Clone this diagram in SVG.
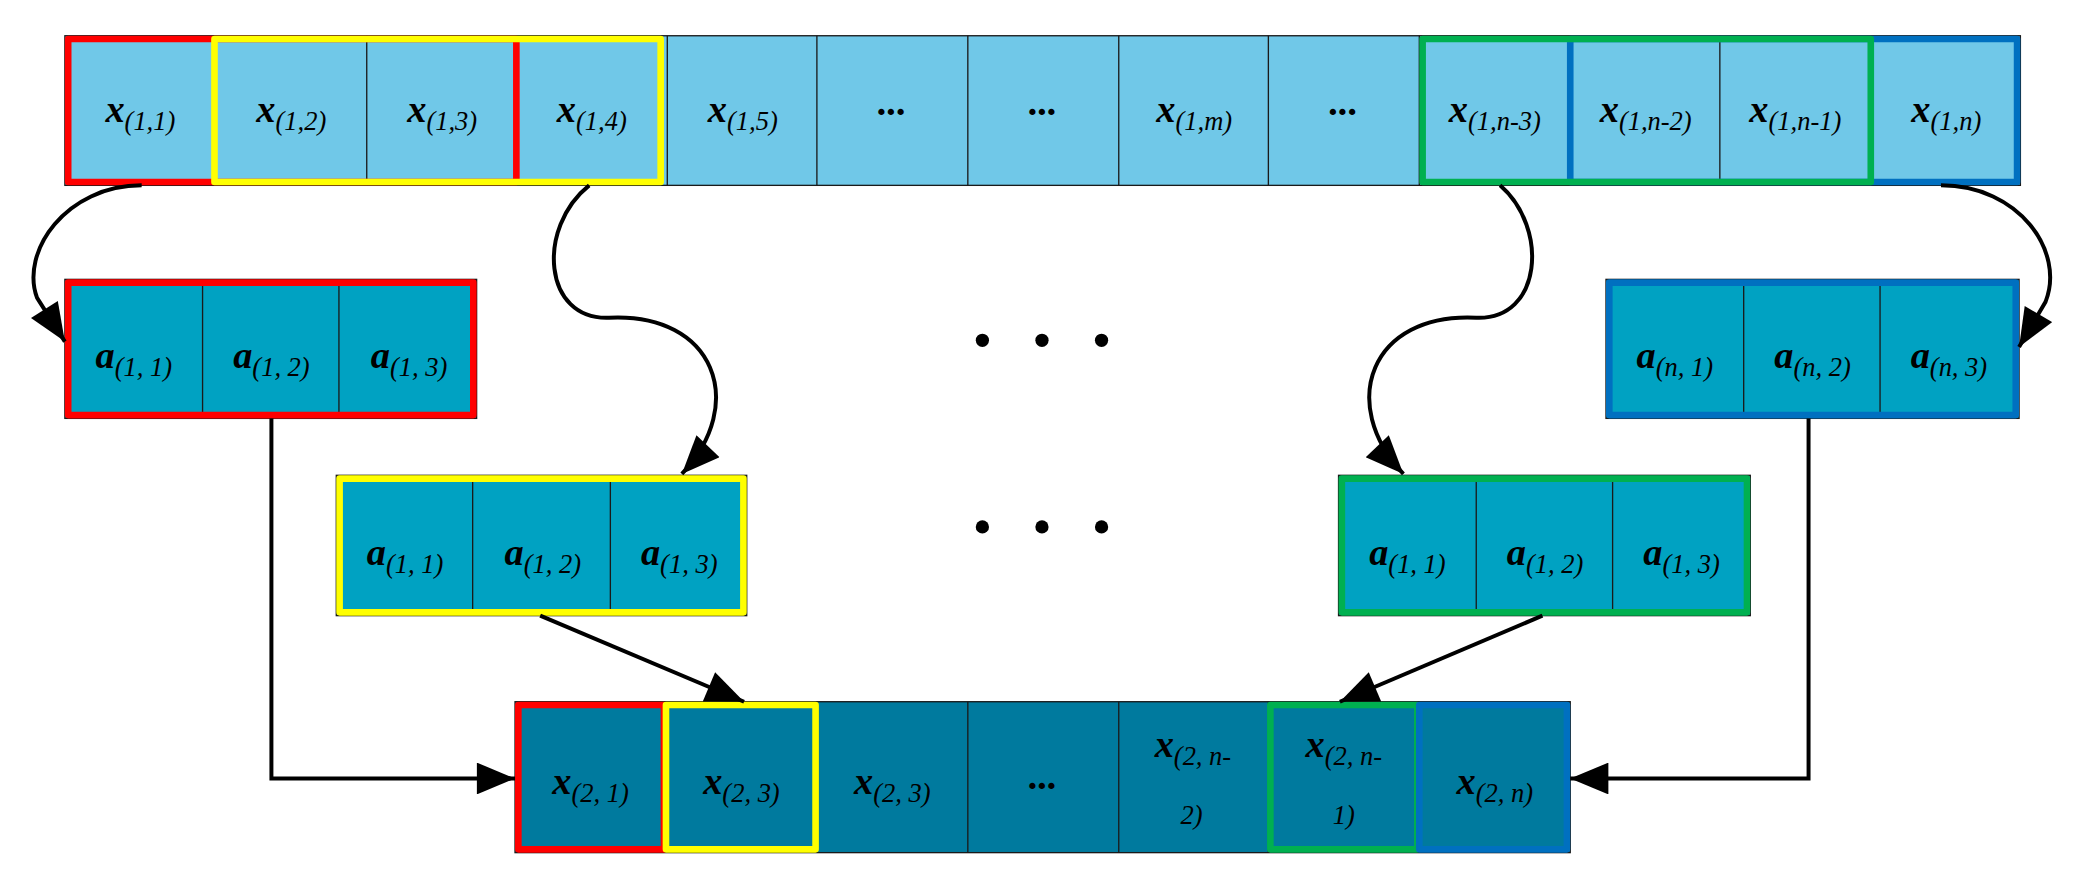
<svg xmlns="http://www.w3.org/2000/svg" width="2076" height="885" viewBox="0 0 2076 885">
<style>
.t{fill:#70C8E8;stroke:#1a1a1a;stroke-width:1}
.a{fill:#00A2C2;stroke:#1a1a1a;stroke-width:1}
.b{fill:#007A9E;stroke:#1a1a1a;stroke-width:1}
.f{fill:none;stroke-width:5;stroke-linejoin:round}
.r{stroke:#FF0000}.y{stroke:#FFFF00}.g{stroke:#00B050}.u{stroke:#0070C0}
text{font-family:"Liberation Serif","Times New Roman",serif;font-weight:bold;font-style:italic;font-size:29px;fill:#000;text-anchor:middle}
.s{font-size:20px;font-weight:normal}
.c{fill:none;stroke:#000;stroke-width:3}
.d{fill:#000}
</style>
<defs>
<marker id="ah" viewBox="0 0 12 10" refX="12" refY="5" markerWidth="10" markerHeight="8" orient="auto" markerUnits="strokeWidth"><path d="M0,0 L12,5 L0,10 z" fill="#000"/></marker>
</defs>
<rect width="2076" height="885" fill="#fff"/>
<g transform="scale(1.32398)">
<g id="top-row">
<rect class="t" x="49" y="27" width="1477" height="113"/>
<path class="t" d="M162,27V140M277,27V140M390,27V140M504,27V140M617,27V140M731,27V140M845,27V140M958,27V140M1072,27V140M1186,27V140M1299,27V140M1413,27V140"/>
<rect class="f r" x="51.5" y="29.5" width="338.5" height="108"/>
<rect class="f y" x="162" y="29.5" width="337" height="108"/>
<rect class="f u" x="1186" y="29.5" width="337.5" height="108"/>
<rect class="f g" x="1074.5" y="29.5" width="338.5" height="108"/>
<text x="106" y="92">x<tspan class="s" dy="6">(1,1)</tspan></text>
<text x="220" y="92">x<tspan class="s" dy="6">(1,2)</tspan></text>
<text x="334" y="92">x<tspan class="s" dy="6">(1,3)</tspan></text>
<text x="447" y="92">x<tspan class="s" dy="6">(1,4)</tspan></text>
<text x="561" y="92">x<tspan class="s" dy="6">(1,5)</tspan></text>
<text x="674" y="87">...</text>
<text x="788" y="87">...</text>
<text x="902" y="92">x<tspan class="s" dy="6">(1,m)</tspan></text>
<text x="1015" y="87">...</text>
<text x="1129" y="92">x<tspan class="s" dy="6">(1,n-3)</tspan></text>
<text x="1243" y="92">x<tspan class="s" dy="6">(1,n-2)</tspan></text>
<text x="1356" y="92">x<tspan class="s" dy="6">(1,n-1)</tspan></text>
<text x="1470" y="92">x<tspan class="s" dy="6">(1,n)</tspan></text>
</g>
<g id="a-red">
<rect class="a" x="49" y="211" width="311" height="105"/>
<path class="a" d="M153,211V316M256,211V316"/>
<rect class="f r" x="51.5" y="213.5" width="306" height="100"/>
<text x="101" y="278">a<tspan class="s" dy="6">(1, 1)</tspan></text>
<text x="205" y="278">a<tspan class="s" dy="6">(1, 2)</tspan></text>
<text x="309" y="278">a<tspan class="s" dy="6">(1, 3)</tspan></text>
</g>
<g id="a-yellow">
<rect class="a" x="254" y="359" width="310" height="106"/>
<path class="a" d="M357,359V465M461,359V465"/>
<rect class="f y" x="256.5" y="361.5" width="305" height="101"/>
<text x="306" y="427">a<tspan class="s" dy="6">(1, 1)</tspan></text>
<text x="410" y="427">a<tspan class="s" dy="6">(1, 2)</tspan></text>
<text x="513" y="427">a<tspan class="s" dy="6">(1, 3)</tspan></text>
</g>
<g id="a-green">
<rect class="a" x="1011" y="359" width="311" height="106"/>
<path class="a" d="M1115,359V465M1218,359V465"/>
<rect class="f g" x="1013.5" y="361.5" width="306" height="101"/>
<text x="1063" y="427">a<tspan class="s" dy="6">(1, 1)</tspan></text>
<text x="1167" y="427">a<tspan class="s" dy="6">(1, 2)</tspan></text>
<text x="1270" y="427">a<tspan class="s" dy="6">(1, 3)</tspan></text>
</g>
<g id="a-blue">
<rect class="a" x="1213" y="211" width="312" height="105"/>
<path class="a" d="M1317,211V316M1420,211V316"/>
<rect class="f u" x="1215.5" y="213.5" width="307" height="100"/>
<text x="1265" y="278">a<tspan class="s" dy="6">(n, 1)</tspan></text>
<text x="1369" y="278">a<tspan class="s" dy="6">(n, 2)</tspan></text>
<text x="1472" y="278">a<tspan class="s" dy="6">(n, 3)</tspan></text>
</g>
<g id="bottom-row">
<rect class="b" x="389" y="530" width="797" height="114"/>
<path class="b" d="M503,530V644M617,530V644M731,530V644M845,530V644M958,530V644M1072,530V644"/>
<rect class="f r" x="391.5" y="532.5" width="110" height="109"/>
<rect class="f y" x="503" y="532.5" width="113" height="109"/>
<rect class="f g" x="959.5" y="532.5" width="111" height="109"/>
<rect class="f u" x="1072" y="532.5" width="111.5" height="109"/>
<text x="446" y="600">x<tspan class="s" dy="6">(2, 1)</tspan></text>
<text x="560" y="600">x<tspan class="s" dy="6">(2, 3)</tspan></text>
<text x="674" y="600">x<tspan class="s" dy="6">(2, 3)</tspan></text>
<text x="788" y="596">...</text>
<text x="901" y="572">x<tspan class="s" dy="6">(2, n-</tspan></text>
<text class="s" x="900" y="622">2)</text>
<text x="1015" y="572">x<tspan class="s" dy="6">(2, n-</tspan></text>
<text class="s" x="1015" y="622">1)</text>
<text x="1129" y="600">x<tspan class="s" dy="6">(2, n)</tspan></text>
</g>
<g id="dots">
<circle class="d" cx="742" cy="257" r="5"/><circle class="d" cx="787" cy="257" r="5"/><circle class="d" cx="832" cy="257" r="5"/>
<circle class="d" cx="742" cy="398" r="5"/><circle class="d" cx="787" cy="398" r="5"/><circle class="d" cx="832" cy="398" r="5"/>
</g>
<g id="connectors">
<path class="c" marker-end="url(#ah)" d="M107,140 C50,140 15,190 28,225 L49,258"/>
<path class="c" marker-end="url(#ah)" d="M445,140 C405,172 410,242 460,240 C540,236 565,305 515,358"/>
<path class="c" marker-end="url(#ah)" d="M1133,140 C1170,172 1165,242 1115,240 C1035,236 1010,305 1060,358"/>
<path class="c" marker-end="url(#ah)" d="M1466,140 C1525,140 1560,190 1545,228 L1525,262"/>
<path class="c" marker-end="url(#ah)" d="M205,316 V588 H389"/>
<path class="c" marker-end="url(#ah)" d="M1366,316 V588 H1186"/>
<path class="c" marker-end="url(#ah)" d="M408,465 L562,530"/>
<path class="c" marker-end="url(#ah)" d="M1165,465 L1012,530"/>
</g>
</g>
</svg>
